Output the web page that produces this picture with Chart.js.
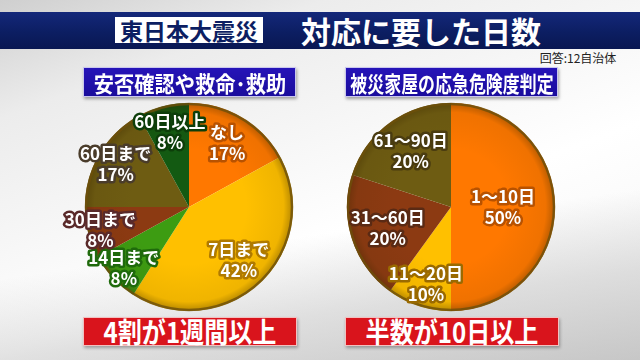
<!DOCTYPE html>
<html>
<head>
  <meta charset="utf-8">
  <title>東日本大震災 対応に要した日数</title>
  <script src="https://cdn.jsdelivr.net/npm/chart.js"></script>
  <style>
    /* page is a fixed 640x360 broadcast-style panel */
    body {
      margin: 0;
      width: 640px;
      height: 360px;
      overflow: hidden;
      position: relative;
      font-family: "Noto Sans CJK JP", "Noto Sans", sans-serif;
      background:
        linear-gradient(172deg, rgba(255,255,255,0) 0%, rgba(255,255,255,0) 62%, rgba(200,200,200,0.55) 80%, rgba(170,170,170,0.6) 100%),
        linear-gradient(160deg, #cfcfcf 0%, #ececec 20%, #f8f8f8 45%, #ffffff 60%, #f2f2f2 100%);
    }
    .band {
      position: absolute; left: 0; top: 12px; width: 640px; height: 37px;
      background: linear-gradient(180deg, #14287a 0%, #0c1e62 55%, #091752 100%);
    }
    .tag {
      position: absolute; left: 115px; top: 17px; width: 148px; height: 26px;
      background: #fff; color: #0c1e62;
      font-weight: 700; font-size: 23px; line-height: 26px; text-align: center;
    }
    .title {
      position: absolute; left: 280px; top: 12px; width: 282px; height: 37px;
      color: #fff; font-weight: 700; font-size: 30px; line-height: 37px; text-align: center;
    }
    .note {
      position: absolute; left: 536px; top: 50px; width: 84px;
      color: #222; font-size: 12px; line-height: 16px; text-align: center;
    }
    .sub {
      position: absolute; top: 67px; width: 213px; height: 30px;
      background: linear-gradient(180deg, #2614b8 0%, #1a0c9c 100%);
      border: 1px solid #c9c6ee; box-sizing: border-box;
      box-shadow: 1px 2px 3px rgba(0,0,0,0.35);
      color: #fff; font-weight: 700; font-size: 22px; line-height: 28px;
      white-space: nowrap; z-index: 2;
    }
    .result {
      position: absolute; top: 317px; width: 214px; height: 29px;
      background: #d9141c; border: 1px solid #f3c0c0; box-sizing: border-box;
      box-shadow: 1px 2px 3px rgba(0,0,0,0.3);
      color: #fff; font-weight: 700; font-size: 28px; line-height: 27px;
      white-space: nowrap;
    }
    /* condensed lettering like the broadcast font, centred in its box */
    .sq {
      position: absolute; left: 50%; top: 0;
      transform: translateX(-50%) scaleX(var(--sx));
    }
    .pie {
      position: absolute; top: 87px; width: 300px; height: 240px; z-index: 1;
    }
  </style>
</head>
<body>
  <div class="band"></div>
  <div class="tag">東日本大震災</div>
  <div class="title">対応に要した日数</div>
  <div class="note">回答:12自治体</div>

  <div class="sub" style="left:83px"><span class="sq" style="--sx:0.92">安否確認や救命･救助</span></div>
  <div class="sub" style="left:345px"><span class="sq" style="--sx:0.77">被災家屋の応急危険度判定</span></div>

  <div class="pie" style="left:39px"><canvas id="leftPie"></canvas></div>
  <div class="pie" style="left:301px"><canvas id="rightPie"></canvas></div>

  <div class="result" style="left:83px"><span class="sq" style="--sx:0.86">4割が1週間以上</span></div>
  <div class="result" style="left:345px"><span class="sq" style="--sx:0.86">半数が10日以上</span></div>

  <script>
    // --- DATA ---

    // 安否確認や救命・救助 (clockwise from 12 o'clock)
    const leftLabels = ['なし', '7日まで', '14日まで', '30日まで', '60日まで', '60日以上'];
    const leftValues = [17, 42, 8, 8, 17, 8];

    // 被災家屋の応急危険度判定
    const rightLabels = ['1～10日', '11～20日', '31～60日', '61～90日'];
    const rightValues = [50, 10, 20, 20];

    // --- STYLE ---

    const leftColors  = ['#ff7800', '#ffc000', '#3d9c12', '#8c3a12', '#6e5c12', '#135a12'];
    const leftStroke  = ['#b85200', '#b07a00', '#1f6a0c', '#5a2a2a', '#4a3c2a', '#0d3e0a'];
    const leftLabelR  = [0.72, 0.70, 0.86, 0.88, 0.82, 0.74];   // label distance, fraction of radius

    const rightColors = ['#ff7800', '#ffc000', '#8c3a12', '#6e5c12'];
    const rightStroke = ['#b85200', '#9a6a00', '#5a2a14', '#4a3c10'];
    const rightLabelR = [0.50, 0.78, 0.64, 0.66];

    // shading ring + white outlined labels on each slice
    const sliceDeco = {
      id: 'sliceDeco',
      afterDatasetsDraw(chart, args, opts) {
        const ctx = chart.ctx;
        const arcs = chart.getDatasetMeta(0).data;
        if (!arcs.length) return;
        const cx = arcs[0].x, cy = arcs[0].y, R = arcs[0].outerRadius;

        // 3D-ish darkening towards the rim
        ctx.save();
        const g = ctx.createRadialGradient(cx, cy, R * 0.55, cx, cy, R);
        g.addColorStop(0, 'rgba(60,40,0,0)');
        g.addColorStop(0.8, 'rgba(60,40,0,0.08)');
        g.addColorStop(0.95, 'rgba(60,40,0,0.3)');
        g.addColorStop(1, 'rgba(60,40,0,0.45)');
        ctx.fillStyle = g;
        ctx.beginPath();
        ctx.arc(cx, cy, R, 0, Math.PI * 2);
        ctx.fill();
        ctx.lineWidth = 2.5;
        ctx.strokeStyle = 'rgba(110,80,10,0.8)';
        ctx.beginPath();
        ctx.arc(cx, cy, R - 1, 0, Math.PI * 2);
        ctx.stroke();
        ctx.restore();

        // labels
        const labels = chart.data.labels;
        const values = chart.data.datasets[0].data;
        ctx.save();
        ctx.font = 'bold 17px "Noto Sans CJK JP", sans-serif';
        ctx.textAlign = 'center';
        ctx.textBaseline = 'middle';
        ctx.lineJoin = 'round';
        arcs.forEach((arc, i) => {
          const mid = (arc.startAngle + arc.endAngle) / 2;
          const r = R * opts.radii[i];
          const x = cx + Math.cos(mid) * r;
          const y = cy + Math.sin(mid) * r;
          const lines = [labels[i], values[i] + '%'];
          lines.forEach((t, k) => {
            const ty = y + (k - 0.5) * 21;
            ctx.lineWidth = 5;
            ctx.strokeStyle = opts.strokes[i];
            ctx.strokeText(t, x, ty);
            ctx.fillStyle = '#ffffff';
            ctx.fillText(t, x, ty);
          });
        });
        ctx.restore();
      }
    };

    function makePie(id, labels, values, colors, strokes, radii) {
      return new Chart(document.getElementById(id), {
        type: 'pie',
        data: {
          labels: labels,
          datasets: [{
            data: values,
            backgroundColor: colors,
            borderWidth: 0
          }]
        },
        options: {
          responsive: true,
          maintainAspectRatio: false,
          animation: false,
          layout: { padding: { left: 46, right: 46, top: 16, bottom: 16 } },
          plugins: {
            legend: { display: false },
            tooltip: { enabled: false },
            sliceDeco: { strokes: strokes, radii: radii }
          }
        },
        plugins: [sliceDeco]
      });
    }

    makePie('leftPie', leftLabels, leftValues, leftColors, leftStroke, leftLabelR);
    makePie('rightPie', rightLabels, rightValues, rightColors, rightStroke, rightLabelR);
  </script>
</body>
</html>
